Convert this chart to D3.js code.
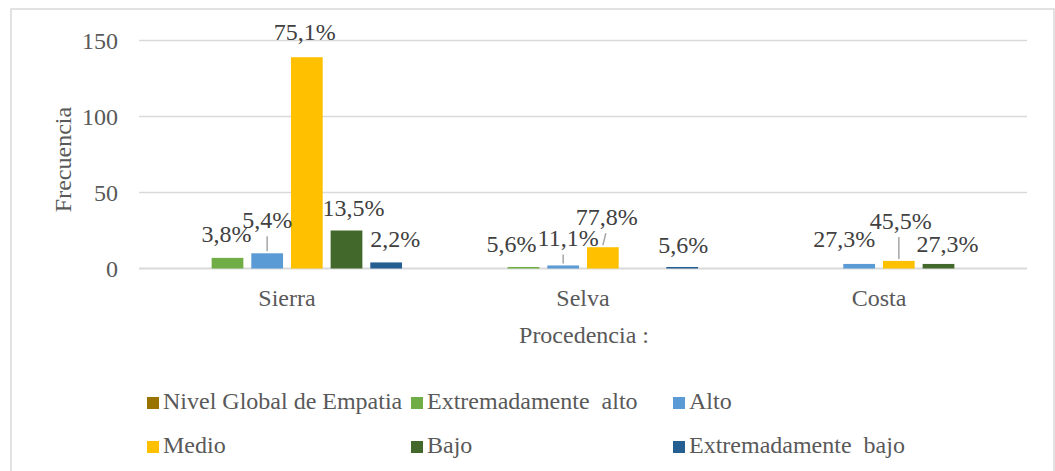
<!DOCTYPE html>
<html>
<head>
<meta charset="utf-8">
<script src="https://cdn.jsdelivr.net/npm/d3@7"></script>
<style>
  body { margin: 0; background: #fff; }
  svg text { font-family: "Liberation Serif", "Times New Roman", serif; }
</style>
</head>
<body>
<div id="chart"></div>
<script>
var categories = ["Sierra", "Selva", "Costa"];
var seriesNames = ["Nivel Global de Empatia", "Extremadamente  alto", "Alto", "Medio", "Bajo", "Extremadamente  bajo"];
var seriesColors = ["#997300", "#70ad47", "#5b9bd5", "#ffc000", "#43682b", "#255e91"];

// frecuencias por procedencia (Sierra, Selva, Costa)
var nivelGlobal = [null, null, null];
var extAlto = [7, 1, null];
var alto = [10, 2, 3];
var medio = [139, 14, 5];
var bajo = [25, null, 3];
var extBajo = [4, 1, null];

var yTicks = [0, 50, 100, 150];

var values = [nivelGlobal, extAlto, alto, medio, bajo, extBajo];

var totals = categories.map(function (c, ci) {
  return d3.sum(values, function (s) { return s[ci] || 0; });
});

// desplazamiento de etiquetas (como Excel las acomodo)
var labelShift = {
  "1|0": { dx: -1, dy: -16 },
  "2|0": { dx: 0, dy: -25, leader: true },
  "3|0": { dx: -2, dy: -17 },
  "4|0": { dx: 7, dy: -15 },
  "5|0": { dx: 9, dy: -15 },
  "1|1": { dx: -12, dy: -15 },
  "2|1": { dx: 5, dy: -19, leader: true, lx: 0 },
  "3|1": { dx: 4, dy: -22, leader: true, lx: 3 },
  "5|1": { dx: 1, dy: -14 },
  "2|2": { dx: -15, dy: -17 },
  "3|2": { dx: 2, dy: -32, leader: true, lx: 0 },
  "4|2": { dx: 9, dy: -12 }
};

var W = 1055, H = 471;
var fs = "24px";
var svg = d3.select("#chart").append("svg").attr("width", W).attr("height", H);

// marco
svg.append("rect")
  .attr("x", 11).attr("y", 9)
  .attr("width", 1043).attr("height", 480)
  .attr("fill", "none").attr("stroke", "#d9d9d9").attr("stroke-width", 1.5);

var plotL = 139, plotR = 1027, plotT = 40.5, plotB = 268.5;

var y = d3.scaleLinear().domain([0, 150]).range([plotB, plotT]);
var x0 = d3.scaleBand().domain(categories).range([plotL, plotR])
  .paddingInner(0.196).paddingOuter(0.098);
var x1 = d3.scaleBand().domain(d3.range(seriesNames.length)).range([0, x0.bandwidth()])
  .paddingInner(0.2).paddingOuter(0.1);

// rejilla
svg.append("g").selectAll("line").data(yTicks).enter().append("line")
  .attr("x1", plotL).attr("x2", plotR)
  .attr("y1", function (d) { return y(d); }).attr("y2", function (d) { return y(d); })
  .attr("stroke", "#d9d9d9")
  .attr("stroke-width", function (d) { return d === 0 ? 2 : 1.5; });

var yAxis = svg.append("g")
  .attr("transform", "translate(" + (plotL - 21) + ",0)")
  .call(d3.axisLeft(y).tickValues(yTicks).tickSize(0).tickPadding(0));
yAxis.select(".domain").remove();
yAxis.selectAll("text")
  .attr("fill", "#595959").style("font-size", fs)
  .style("font-family", "'Liberation Serif', serif")
  .attr("dy", "0.34em");

var xAxis = svg.append("g")
  .attr("transform", "translate(0," + plotB + ")")
  .call(d3.axisBottom(x0).tickSize(0).tickPadding(0));
xAxis.select(".domain").remove();
xAxis.selectAll("text")
  .attr("fill", "#595959").style("font-size", fs)
  .style("font-family", "'Liberation Serif', serif")
  .attr("y", 37).attr("dy", 0);

// barras
var bars = [];
values.forEach(function (s, si) {
  s.forEach(function (v, ci) {
    if (v == null) return;
    bars.push({ si: si, ci: ci, v: v, pct: v / totals[ci] * 100 });
  });
});

svg.append("g").selectAll("rect").data(bars).enter().append("rect")
  .attr("x", function (d) { return x0(categories[d.ci]) + x1(d.si); })
  .attr("width", x1.bandwidth())
  .attr("y", function (d) { return y(d.v); })
  .attr("height", function (d) { return y(0) - y(d.v); })
  .attr("fill", function (d) { return seriesColors[d.si]; });

function barCx(d) { return x0(categories[d.ci]) + x1(d.si) + x1.bandwidth() / 2; }
function shiftOf(d) { return labelShift[d.si + "|" + d.ci] || { dx: 0, dy: -15 }; }

// lineas guia
svg.append("g").selectAll("line")
  .data(bars.filter(function (d) { return shiftOf(d).leader; }))
  .enter().append("line")
  .attr("x1", function (d) { return barCx(d) + (shiftOf(d).lx || 0); })
  .attr("y1", function (d) { return y(d.v) + shiftOf(d).dy + 8; })
  .attr("x2", function (d) { return barCx(d); })
  .attr("y2", function (d) { return y(d.v) - 2; })
  .attr("stroke", "#a6a6a6").attr("stroke-width", 1.5);

// etiquetas de porcentaje
svg.append("g").selectAll("text").data(bars).enter().append("text")
  .attr("x", function (d) { return barCx(d) + shiftOf(d).dx; })
  .attr("y", function (d) { return y(d.v) + shiftOf(d).dy; })
  .attr("text-anchor", "middle")
  .attr("fill", "#404040")
  .style("font-size", fs)
  .text(function (d) { return d.pct.toFixed(1).replace(".", ",") + "%"; });

// titulos de ejes
svg.append("text")
  .attr("transform", "translate(71," + ((plotT + plotB) / 2 + 5) + ") rotate(-90)")
  .attr("text-anchor", "middle")
  .attr("fill", "#595959").style("font-size", fs)
  .text("Frecuencia");

svg.append("text")
  .attr("x", (plotL + plotR) / 2 + 1).attr("y", 343)
  .attr("text-anchor", "middle")
  .attr("fill", "#595959").style("font-size", fs)
  .style("white-space", "pre")
  .text("Procedencia :");

// leyenda
var legCols = [147, 411, 673];
var legRows = [397, 441];
var legend = svg.append("g").selectAll("g").data(seriesNames).enter().append("g")
  .attr("transform", function (d, i) {
    return "translate(" + legCols[i % 3] + "," + legRows[Math.floor(i / 3)] + ")";
  });
legend.append("rect")
  .attr("width", 12).attr("height", 12)
  .attr("fill", function (d, i) { return seriesColors[i]; });
legend.append("text")
  .attr("x", 16).attr("y", 12)
  .attr("fill", "#595959").style("font-size", fs)
  .style("white-space", "pre")
  .text(function (d) { return d; });
</script>
</body>
</html>
